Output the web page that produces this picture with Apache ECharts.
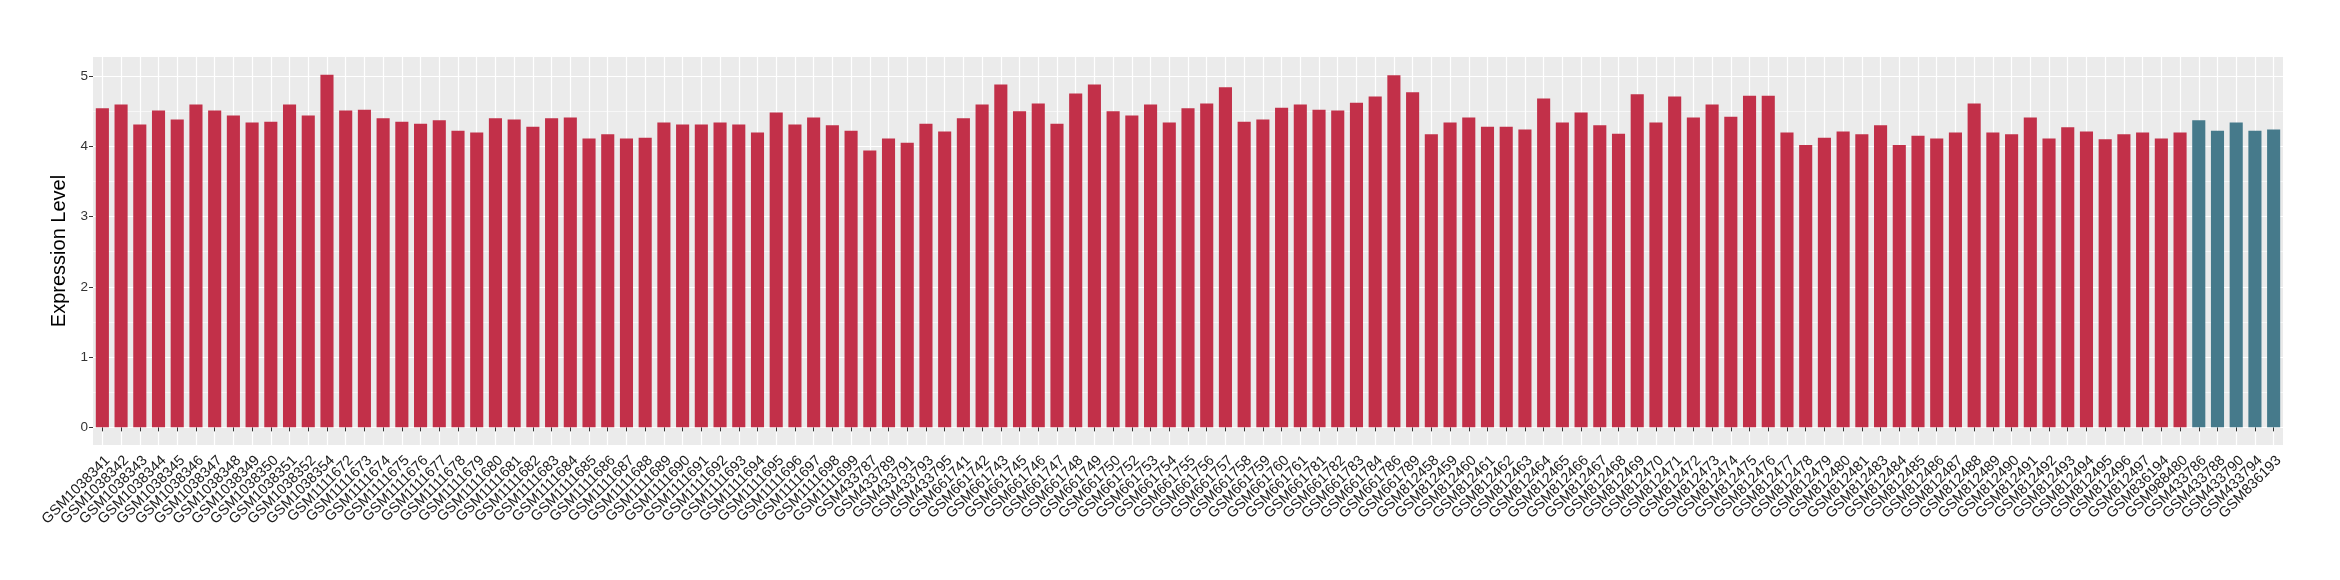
<!DOCTYPE html>
<html>
<head>
<meta charset="utf-8">
<script src="https://cdn.jsdelivr.net/npm/echarts@6/dist/echarts.min.js"></script>
<style>html,body{margin:0;padding:0;background:#fff}#c{width:2340px;height:580px}</style>
</head>
<body>
<div id="c"></div>
<script>
const redSamples = [
  'GSM1038341','GSM1038342','GSM1038343','GSM1038344','GSM1038345','GSM1038346','GSM1038347','GSM1038348','GSM1038349','GSM1038350','GSM1038351','GSM1038352','GSM1038354',
  'GSM1111672','GSM1111673','GSM1111674','GSM1111675','GSM1111676','GSM1111677','GSM1111678','GSM1111679','GSM1111680','GSM1111681','GSM1111682','GSM1111683','GSM1111684','GSM1111685','GSM1111686','GSM1111687','GSM1111688','GSM1111689','GSM1111690','GSM1111691','GSM1111692','GSM1111693','GSM1111694','GSM1111695','GSM1111696','GSM1111697','GSM1111698','GSM1111699',
  'GSM433787','GSM433789','GSM433791','GSM433793','GSM433795',
  'GSM661741','GSM661742','GSM661743','GSM661745','GSM661746','GSM661747','GSM661748','GSM661749','GSM661750','GSM661752','GSM661753','GSM661754','GSM661755','GSM661756','GSM661757','GSM661758','GSM661759','GSM661760','GSM661761','GSM661781','GSM661782','GSM661783','GSM661784','GSM661786','GSM661789',
  'GSM812458','GSM812459','GSM812460','GSM812461','GSM812462','GSM812463','GSM812464','GSM812465','GSM812466','GSM812467','GSM812468','GSM812469','GSM812470','GSM812471','GSM812472','GSM812473','GSM812474','GSM812475','GSM812476','GSM812477','GSM812478','GSM812479','GSM812480','GSM812481','GSM812483','GSM812484','GSM812485','GSM812486','GSM812487','GSM812488','GSM812489','GSM812490','GSM812491','GSM812492','GSM812493','GSM812494','GSM812495','GSM812496','GSM812497',
  'GSM836194','GSM988480'
];
const redValues = [
  4.54, 4.595, 4.31, 4.51, 4.38, 4.595, 4.51, 4.44, 4.34, 4.35,
  4.595, 4.44, 5.02, 4.51, 4.52, 4.40, 4.35, 4.32, 4.37, 4.22,
  4.195, 4.40, 4.38, 4.28, 4.40, 4.41, 4.11, 4.17, 4.11, 4.12,
  4.34, 4.31, 4.31, 4.34, 4.31, 4.195, 4.48, 4.31, 4.41, 4.30,
  4.22, 3.94, 4.11, 4.05, 4.32, 4.21, 4.40, 4.595, 4.88, 4.50,
  4.61, 4.32, 4.75, 4.88, 4.50, 4.44, 4.595, 4.34, 4.54, 4.61,
  4.84, 4.35, 4.38, 4.55, 4.595, 4.52, 4.51, 4.62, 4.71, 5.01,
  4.77, 4.17, 4.34, 4.41, 4.28, 4.28, 4.24, 4.68, 4.34, 4.48,
  4.30, 4.18, 4.74, 4.34, 4.71, 4.41, 4.595, 4.42, 4.72, 4.72,
  4.195, 4.02, 4.12, 4.21, 4.17, 4.30, 4.02, 4.15, 4.11, 4.195,
  4.61, 4.195, 4.17, 4.41, 4.11, 4.27, 4.21, 4.10, 4.17, 4.195,
  4.11, 4.195
];
const blueSamples = ['GSM433786','GSM433788','GSM433790','GSM433794','GSM836193'];
const blueValues = [4.37, 4.22, 4.34, 4.22, 4.24];
const yTicks = [0, 1, 2, 3, 4, 5];
const yMinorTicks = [0.5, 1.5, 2.5, 3.5, 4.5];

const categories = redSamples.concat(blueSamples);
const redData = redValues.concat(blueSamples.map(() => '-'));
const blueData = redSamples.map(() => '-').concat(blueValues);
const allVals = redValues.concat(blueValues);
const yMaxData = Math.max(...allVals);
const pad = 0.05 * yMaxData;
const yMin = -pad, yMax = yMaxData + pad;

const chart = echarts.init(document.getElementById('c'), null, {renderer: 'canvas'});
const font = '"Liberation Sans", Arial, sans-serif';
chart.setOption({
  animation: false,
  backgroundColor: '#ffffff',
  grid: {left: 93, right: 57, top: 57, bottom: 135, show: true, backgroundColor: '#EBEBEB', borderWidth: 0},
  xAxis: {
    type: 'category', data: categories,
    axisLine: {show: false},
    axisTick: {show: true, alignWithLabel: true, interval: 0, length: 4, lineStyle: {color: '#333333', width: 1}},
    splitLine: {show: true, alignWithLabel: true, interval: 0, lineStyle: {color: '#ffffff', width: 1.2}},
    axisLabel: {interval: 0, rotate: 45, margin: 8, fontSize: 14.5, color: '#1a1a1a', fontFamily: font,
                align: 'right', verticalAlign: 'top'}
  },
  yAxis: [{
    type: 'value', min: yMin, max: yMax,
    name: 'Expression Level', nameLocation: 'middle', nameRotate: 90, nameGap: 14,
    nameTextStyle: {fontSize: 20, color: '#000000', fontFamily: font},
    axisLine: {show: false},
    axisTick: {show: true, length: 4, customValues: yTicks, lineStyle: {color: '#333333', width: 1}},
    axisLabel: {customValues: yTicks, fontSize: 13.5, color: '#333333', margin: 5, fontFamily: font},
    splitLine: {show: true, lineStyle: {color: '#ffffff', width: 1.2}}
  }, {
    type: 'value', min: yMin, max: yMax, position: 'left',
    axisLine: {show: false},
    axisTick: {show: false, customValues: yMinorTicks},
    axisLabel: {show: false, customValues: yMinorTicks},
    splitLine: {show: true, lineStyle: {color: '#ffffff', width: 0.6}}
  }],
  series: [{
    type: 'bar', data: redData, yAxisIndex: 0, barGap: '-100%', barCategoryGap: '30%',
    itemStyle: {color: '#C23049'}, z: 3
  }, {
    type: 'bar', data: blueData, yAxisIndex: 0, barGap: '-100%', barCategoryGap: '30%',
    itemStyle: {color: '#467A8B'}, z: 3
  }]
});
</script>
</body>
</html>
